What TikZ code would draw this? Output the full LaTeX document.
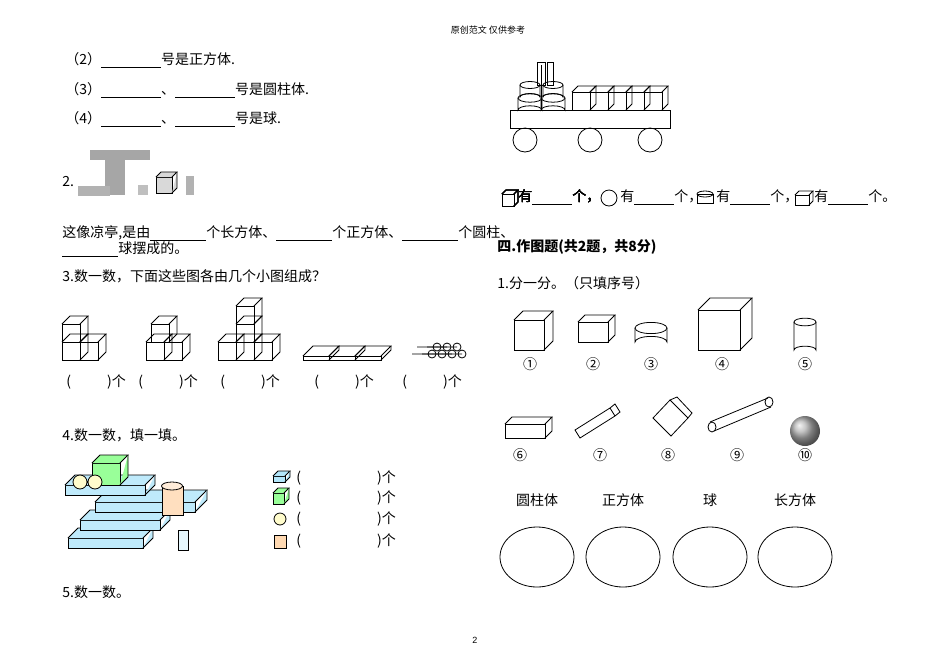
\documentclass[tikz,border=0pt]{standalone}
\usepackage{fontspec}
\setmainfont{Liberation Sans}
\newfontfamily\cjk{Noto Sans CJK SC}
\usetikzlibrary{positioning,calc,shapes.geometric}
% box: lower left corner (x,y), width, height, depth
\newcommand\bx[6][]{%
  \draw[#1] (#2,#3) rectangle ++(#4,-#5);
  \draw[#1] (#2,#3-#5) -- ++(#6,-#6) -- ++(#4,0) -- (#2+#4,#3-#5);
  \draw[#1] (#2+#4,#3) -- ++(#6,-#6) -- ++(0,-#5);}
\newcommand\cyl[4]{% centre x, bottom y, radius, height
  \draw (#1-#3,#2-#4) -- (#1-#3,#2) arc[start angle=180,end angle=360,x radius=#3,y radius=#3*0.35] -- (#1+#3,#2-#4);
  \draw (#1,#2-#4) ellipse[x radius=#3,y radius=#3*0.35];}
\begin{document}
\begin{tikzpicture}[x=0.5pt,y=-0.5pt,
  txt/.style={anchor=west,inner sep=0pt,font=\cjk\fontsize{7}{8}\selectfont},
  num/.style={inner sep=0pt,font=\cjk\fontsize{7}{8}\selectfont},
  oval/.style={draw,ellipse,minimum width=37pt,minimum height=30pt}]
\useasboundingbox (0,0) rectangle (950,671);
\node[num,font=\cjk\fontsize{4.5}{5}\selectfont] (head) at (488,30) {原创范文 仅供参考};
\node[num,font=\fontsize{4.5}{5}\selectfont] (page) at (475,640) {2};

% left column
\node[txt] (t2) at (65,61) {（2）\underline{\hspace{30pt}}号是正方体.};
\node[txt] (t3) at (65,91) {（3）\underline{\hspace{30pt}}、\underline{\hspace{30pt}}号是圆柱体.};
\node[txt] (t4) at (65,120) {（4）\underline{\hspace{30pt}}、\underline{\hspace{30pt}}号是球.};
\node[txt] (q2) at (62,182) {2.};
\fill[gray!70] (90,150) rectangle (150,160);
\fill[gray!70] (105,160) rectangle (125,195);
\fill[gray!60] (78,186) rectangle (110,196);
\fill[gray!50] (138,185) rectangle (148,195);
\bx[fill=gray!30]{156}{193}{16}{16}{5}
\fill[gray!60] (186,176) rectangle (194,195);
\node[txt] (l1) at (62,234) {这像凉亭,是由\underline{\hspace{28pt}}个长方体、\underline{\hspace{28pt}}个正方体、\underline{\hspace{28pt}}个圆柱、};
\node[txt] (l2) at (62,250) {\underline{\hspace{28pt}}球摆成的。};
\node[txt] (q3) at (62,276) {3.数一数，下面这些图各由几个小图组成？};
% figures of q3
\bx{62}{360}{18}{18}{8}\bx{80}{360}{18}{18}{8}\bx{62}{342}{18}{18}{8}
\bx{146}{360}{18}{18}{8}\bx{164}{360}{18}{18}{8}\bx{151}{342}{18}{18}{8}
\bx{218}{360}{18}{18}{8}\bx{236}{360}{18}{18}{8}\bx{254}{360}{18}{18}{8}
\bx{236}{342}{18}{18}{8}\bx{236}{324}{18}{18}{8}
\bx{303}{360}{26}{4}{10}\bx{329}{360}{26}{4}{10}\bx{355}{360}{26}{4}{10}
\foreach \i/\j in {0/0,10/0,20/0,30/0,5/-7,15/-7,25/-7}
  \draw (412+\i+20,354+\j) circle (4) (412+\i,354+\j) -- (432+\i,354+\j);
\foreach \x in {66,138,220,314,402}
  \node[txt] at (\x,382) {(\hspace{18pt})个};
\node[txt] (q4) at (62,435) {4.数一数，填一填。};
% block picture
\bx[fill=cyan!25]{68}{548}{75}{10}{10}
\bx[fill=cyan!25]{80}{530}{80}{10}{10}
\bx[fill=cyan!25]{95}{512}{100}{10}{12}
\bx[fill=cyan!25]{65}{495}{80}{10}{10}
\bx[fill=green!40]{92}{485}{28}{22}{8}
\draw[fill=yellow!20] (80,482) circle (7) (95,482) circle (7);
\draw[fill=orange!25] (162,486) rectangle (183,515);
\draw[fill=orange!15] (172,486) ellipse (10.5 and 4);
\draw[fill=cyan!10] (178,530) rectangle (188,550);
\foreach \y in {478,498,519,541}
  \node[txt] at (296,\y) {(\hspace{38pt})个};
\bx[fill=cyan!30]{273}{482}{12}{6}{5}
\bx[fill=green!40]{273}{504}{11}{11}{5}
\draw[fill=yellow!20] (280,519) circle (6);
\draw[fill=orange!30] (274,535) rectangle (286,548);
\node[txt] (q5) at (62,592) {5.数一数。};

% truck
\draw (510,110) rectangle (670,128);
\foreach \x in {525,590,650} \draw (\x,140) circle (12);
\cyl{530}{110}{12}{12}\cyl{553}{110}{12}{12}
\cyl{530}{97}{10}{12}\cyl{553}{97}{10}{12}
\draw (537,62) rectangle (545,85) (547,62) rectangle (553,85);
\draw (541,110) -- (541,65);
\foreach \x in {572,590,608,626,644} \bx{\x}{110}{18}{18}{6}
\bx{502}{206}{12}{12}{4}
\node[txt] at (518,198) {有\underline{\hspace{20pt}}个，};
\draw (609,198) circle (8);
\node[txt] at (620,198) {有\underline{\hspace{20pt}}个，};
\draw (697,194) rectangle (713,203); \draw (705,194) ellipse (8 and 3);
\node[txt] at (716,198) {有\underline{\hspace{20pt}}个，};
\bx{795}{205}{14}{10}{4}
\node[txt] at (814,198) {有\underline{\hspace{20pt}}个。};

\node[txt,font=\cjk\bfseries\fontsize{7}{8}\selectfont] (s4) at (497,247) {四.作图题(共2题，共8分)};
\node[txt] (p1) at (497,283) {1.分一分。（只填序号）};
% shapes
\bx{514}{350}{30}{30}{9}
\bx{578}{342}{30}{20}{7}
\cyl{651}{342}{16}{14}
\bx{698}{350}{42}{40}{12}
\cyl{805}{350}{11}{28}
\bx{505}{438}{40}{14}{7}
\draw (575,430) -- (610,408) -- (615,416) -- (580,438) -- cycle (610,408) -- (615,404) -- (620,412) -- (615,416);
\draw (653,418) -- (670,400) -- (688,418) -- (671,436) -- cycle (670,400) -- (677,397) -- (692,413) -- (688,418);
\draw (710,422) -- (768,398) (714,431) -- (771,407);
\draw (712,427) ellipse (4 and 5) (769,402) ellipse (4 and 5);
\shade[ball color=gray!60] (805,431) circle (15);
\foreach \x/\n in {530/①,593/②,651/③,722/④,805/⑤}
  \node[num] at (\x,364) {\n};
\foreach \x/\n in {520/⑥,600/⑦,668/⑧,737/⑨,805/⑩}
  \node[num] at (\x,455) {\n};
\foreach \x/\n/\t in {537/a/圆柱体,623/b/正方体,710/c/球,795/d/长方体}{
  \node[num] (lab\n) at (\x,500) {\t};
  \node[oval] (ov\n) at (\x,557) {};}
\end{tikzpicture}
\end{document}
